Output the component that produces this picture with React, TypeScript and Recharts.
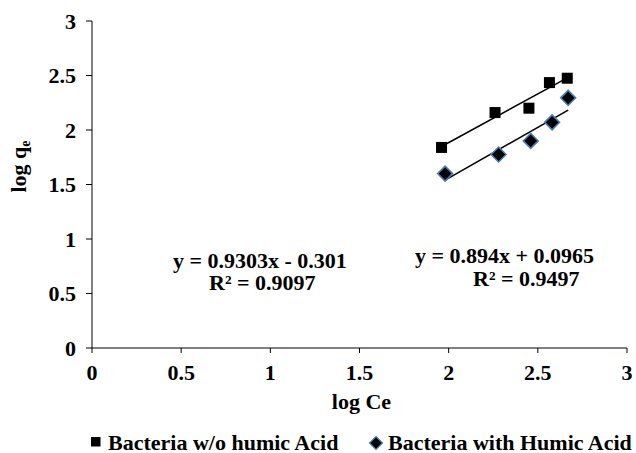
import React from 'react';
import { ScatterChart, Scatter, XAxis, YAxis, Customized } from 'recharts';

const withoutHumicX = [1.96, 2.26, 2.45, 2.565, 2.665];
const withoutHumicY = [1.84, 2.16, 2.2, 2.435, 2.475];
const withHumicX = [1.98, 2.28, 2.46, 2.58, 2.67];
const withHumicY = [1.6, 1.775, 1.9, 2.07, 2.295];

const xTicks = [0, 0.5, 1, 1.5, 2, 2.5, 3];
const yTicks = [0, 0.5, 1, 1.5, 2, 2.5, 3];

const withoutFit = { slope: 0.894, intercept: 0.0965, r2: '0.9497', label: 'y = 0.894x + 0.0965' };
const withFit = { slope: 0.9303, intercept: -0.301, r2: '0.9097', label: 'y = 0.9303x - 0.301' };

const legendNames = ['Bacteria w/o humic Acid', 'Bacteria with Humic Acid'];

const withoutData = withoutHumicX.map((x, i) => ({ x, y: withoutHumicY[i] }));
const withData = withHumicX.map((x, i) => ({ x, y: withHumicY[i] }));

const fitLine = (xs: number[], f: { slope: number; intercept: number }) => {
  const x0 = Math.min(...xs);
  const x1 = Math.max(...xs);
  return [
    { x: x0, y: f.slope * x0 + f.intercept },
    { x: x1, y: f.slope * x1 + f.intercept },
  ];
};

const FONT = '"Liberation Serif", "Times New Roman", serif';
const FS = 22;

const Square = (props: any) => {
  const { cx, cy } = props;
  if (cx == null || cy == null) return null;
  return <rect x={cx - 5.5} y={cy - 5.5} width={11} height={11} fill="#000" />;
};

const Diamond = (props: any) => {
  const { cx, cy } = props;
  if (cx == null || cy == null) return null;
  const r = 7.5;
  return (
    <polygon
      points={`${cx},${cy - r} ${cx + r},${cy} ${cx},${cy + r} ${cx - r},${cy}`}
      fill="#000"
      stroke="#4a7ebb"
      strokeWidth={1.5}
    />
  );
};

const NoShape = () => null;

const YLabel = (props: any) => {
  const vb = props.viewBox || {};
  const cx = 26;
  const cy = vb.y + vb.height / 2 - 18;
  return (
    <text
      x={cx}
      y={cy}
      transform={`rotate(-90 ${cx} ${cy})`}
      textAnchor="middle"
      fontFamily={FONT}
      fontWeight="bold"
      fontSize={FS}
      fill="#000"
    >
      log q<tspan fontSize={14} dy={4}>e</tspan>
    </text>
  );
};

const XLabel = (props: any) => {
  const vb = props.viewBox || {};
  return (
    <text
      x={vb.x + vb.width / 2 + 2}
      y={vb.y + 61}
      textAnchor="middle"
      fontFamily={FONT}
      fontWeight="bold"
      fontSize={FS}
      fill="#000"
    >
      log Ce
    </text>
  );
};

const Annotations = () => (
  <g fontFamily={FONT} fontWeight="bold" fontSize={FS} fill="#000">
    <text x={173} y={268}>{withFit.label}</text>
    <text x={209} y={290}>R² = {withFit.r2}</text>
    <text x={415} y={263}>{withoutFit.label}</text>
    <text x={473} y={286}>R² = {withoutFit.r2}</text>
    <rect x={91} y={437} width={9.5} height={9.5} fill="#000" />
    <text x={108} y={450}>{legendNames[0]}</text>
    <polygon points="376,436.5 382.5,443 376,449.5 369.5,443" fill="#000" stroke="#4a7ebb" strokeWidth={1.2} />
    <text x={388} y={450}>{legendNames[1]}</text>
  </g>
);

export default function App() {
  return (
    <div style={{ position: 'absolute', left: 0, top: 0, width: 636, height: 453, background: '#fff' }}>
      <ScatterChart width={636} height={453} margin={{ top: 21, right: 9, bottom: 75, left: 52 }}>
        <XAxis
          type="number"
          dataKey="x"
          domain={[0, 3]}
          ticks={xTicks}
          tickFormatter={(v: number) => String(v)}
          axisLine={{ stroke: '#000' }}
          tickLine={{ stroke: '#000' }}
          tickSize={5}
          tickMargin={11}
          height={30}
          tick={{ fill: '#000', fontFamily: FONT, fontWeight: 'bold', fontSize: FS }}
          label={<XLabel />}
        />
        <YAxis
          type="number"
          dataKey="y"
          domain={[0, 3]}
          ticks={yTicks}
          tickFormatter={(v: number) => String(v)}
          axisLine={{ stroke: '#000' }}
          tickLine={{ stroke: '#000' }}
          tickSize={6}
          tickMargin={10}
          width={40}
          tick={{ fill: '#000', fontFamily: FONT, fontWeight: 'bold', fontSize: FS }}
          label={<YLabel />}
        />
        <Scatter data={fitLine(withoutHumicX, withoutFit)} line={{ stroke: '#000', strokeWidth: 1.5 }} shape={<NoShape />} isAnimationActive={false} legendType="none" />
        <Scatter data={fitLine(withHumicX, withFit)} line={{ stroke: '#000', strokeWidth: 1.5 }} shape={<NoShape />} isAnimationActive={false} legendType="none" />
        <Scatter name={legendNames[0]} data={withoutData} shape={<Square />} isAnimationActive={false} />
        <Scatter name={legendNames[1]} data={withData} shape={<Diamond />} isAnimationActive={false} />
        <Customized component={Annotations} />
      </ScatterChart>
    </div>
  );
}
